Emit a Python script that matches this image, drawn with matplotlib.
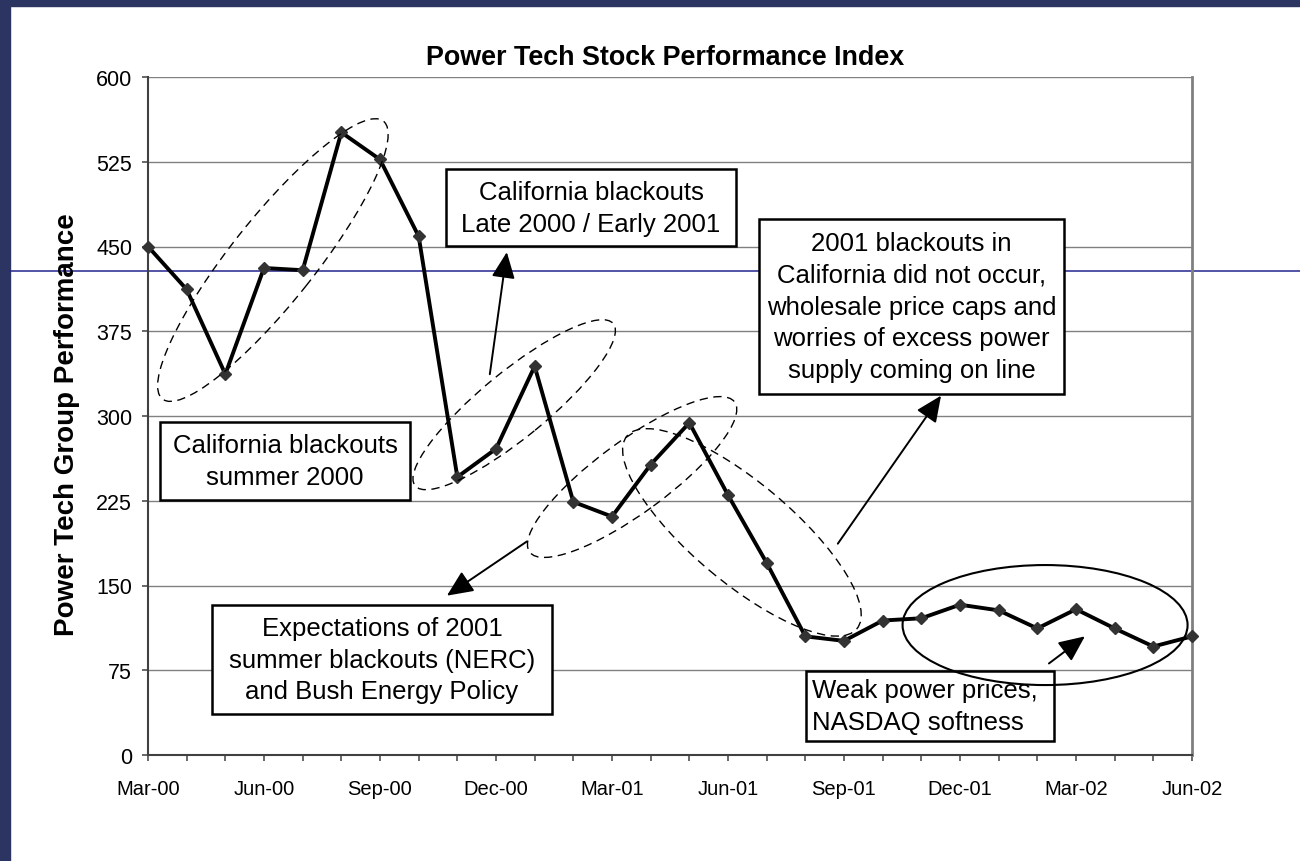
import matplotlib.pyplot as plt
import matplotlib.transforms as mtransforms
from matplotlib.patches import Ellipse, Rectangle
from matplotlib.lines import Line2D

plt.rcParams["font.family"] = ["Liberation Sans", "DejaVu Sans"]

# ==================== data ====================
months = ["Mar-00", "Apr-00", "May-00", "Jun-00", "Jul-00", "Aug-00", "Sep-00",
          "Oct-00", "Nov-00", "Dec-00", "Jan-01", "Feb-01", "Mar-01", "Apr-01",
          "May-01", "Jun-01", "Jul-01", "Aug-01", "Sep-01", "Oct-01", "Nov-01",
          "Dec-01", "Jan-02", "Feb-02", "Mar-02", "Apr-02", "May-02", "Jun-02"]
values = [450, 412, 337, 431, 429, 551, 527, 459, 246, 271, 344, 224, 211, 257,
          294, 230, 170, 105, 101, 119, 121, 133, 128, 112, 129, 112, 96, 105]
yticks = [0, 75, 150, 225, 300, 375, 450, 525, 600]

# text boxes: (text, x0, x1, y0, y1, alignment)
boxes = [
    ("California blackouts\nsummer 2000", 0.31, 6.78, 225.7, 294.7, "center"),
    ("California blackouts\nLate 2000 / Early 2001", 7.71, 15.21, 450.4, 518.6, "center"),
    ("2001 blackouts in\nCalifornia did not occur,\nwholesale price caps and\n"
     "worries of excess power\nsupply coming on line", 15.80, 23.69, 319.5, 474.3, "center"),
    ("Expectations of 2001\nsummer blackouts (NERC)\nand Bush Energy Policy",
     1.655, 10.45, 36.3, 132.7, "center"),
    ("Weak power prices,\nNASDAQ softness", 17.02, 23.43, 12.4, 74.3, "left"),
]
# arrows: start -> tip (data coords)
arrows = [((8.84, 337), (9.28, 445)),
          ((9.80, 189), (7.73, 141)),
          ((17.84, 187), (20.51, 318)),
          ((23.30, 81), (24.23, 105))]
# ellipses: centre (data), width/height in pixels, angle, dashed
ellipses = [((3.23, 438), 355, 84, 51.5, True),
            ((9.47, 310), 256, 66, 39.3, True),
            ((12.52, 246), 254, 72, 36.2, True),
            ((15.36, 197), 300, 100, -40, True),
            ((23.2, 115), 285, 120, 0, False)]

# ==================== figure ====================
W, H = 1300, 862
fig = plt.figure(figsize=(W / 100, H / 100), dpi=100)
fig.patch.set_facecolor("white")

navy = "#2c3462"
fig.add_artist(Rectangle((0, 0), 10 / W, 1, transform=fig.transFigure, color=navy, zorder=-2))
fig.add_artist(Rectangle((0, 1 - 7 / H), 1, 7 / H, transform=fig.transFigure, color=navy, zorder=-2))
fig.add_artist(Line2D([10 / W, 1], [1 - 272 / H, 1 - 272 / H], transform=fig.transFigure,
                      color="#25258f", lw=1.1, zorder=-1))

ax = fig.add_axes([148 / W, 1 - 756 / H, (1192 - 148) / W, (756 - 78) / H])
ax.set_facecolor("none")

x = list(range(len(months)))
ax.plot(x, values, color="black", lw=2.8, zorder=3, clip_on=False)
ax.plot(x, values, ls="none", marker="D", ms=6.3, color="#333333", zorder=4, clip_on=False)

ax.set_xlim(0, len(months) - 1)
ax.set_ylim(0, 600)
ax.set_yticks(yticks)
ax.set_xticks(x[::3])
ax.set_xticklabels(months[::3])
ax.set_xticks(x, minor=True)
ax.grid(axis="y", color="#808080", lw=1.0, zorder=0)
ax.set_axisbelow(True)

ax.tick_params(axis="y", direction="out", length=4.5, width=1.1, color="#404040",
               labelsize=15.5, pad=7)
ax.tick_params(axis="x", which="both", direction="out", length=4.5, width=1.1,
               color="#404040", labelsize=14.5, pad=13)
ax.spines["top"].set_visible(False)
ax.spines["right"].set_color("#808080")
ax.spines["right"].set_linewidth(2)
for s in ["left", "bottom"]:
    ax.spines[s].set_color("#404040")
    ax.spines[s].set_linewidth(1.5)

fig.text(665 / W, 1 - 58 / H, "Power Tech Stock Performance Index", ha="center",
         va="center", fontsize=19.4, fontweight="bold")
fig.text(67 / W, 1 - 425 / H, "Power Tech Group Performance", ha="center", va="center",
         rotation=90, fontsize=20, fontweight="bold")

# annotations
for txt, x0, x1, y0, y1, al in boxes:
    ax.add_patch(Rectangle((x0, y0), x1 - x0, y1 - y0, facecolor="white",
                           edgecolor="black", lw=1.8, zorder=5, clip_on=False))
    tx = (x0 + x1) / 2 if al == "center" else x0 + 0.15
    ax.text(tx, (y0 + y1) / 2, txt, ha=al, va="center", ma=al, fontsize=18.5,
            linespacing=1.42, zorder=6, clip_on=False)

for start, tip in arrows:
    ax.annotate("", xy=tip, xytext=start,
                arrowprops=dict(arrowstyle="-|>,head_length=0.8,head_width=0.36",
                                color="black", lw=1.4, shrinkA=0, shrinkB=0,
                                mutation_scale=20), zorder=7)

for (cx, cy), w, h, ang, dashed in ellipses:
    px, py = ax.transData.transform((cx, cy))
    ax.add_patch(Ellipse((px, py), w, h, angle=ang, fill=False, edgecolor="black",
                         lw=1.0 if dashed else 1.5,
                         ls=(0, (6, 4)) if dashed else "-",
                         transform=mtransforms.IdentityTransform(), zorder=7,
                         clip_on=False))

fig.savefig("out.png", dpi=100)
